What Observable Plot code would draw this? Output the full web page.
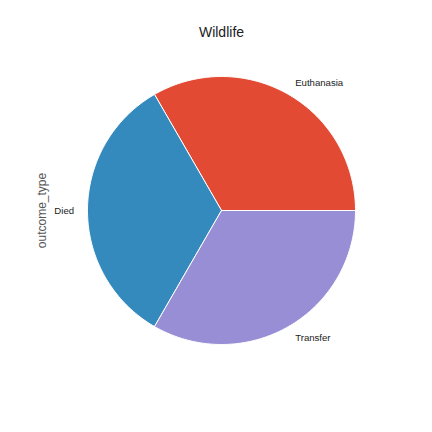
<!DOCTYPE html>
<html>
<head>
<meta charset="utf-8">
<script src="https://cdn.jsdelivr.net/npm/d3@7"></script>
<script src="https://cdn.jsdelivr.net/npm/@observablehq/plot@0.6"></script>
<style>
  html, body { margin: 0; padding: 0; background: #fff; }
  svg { display: block; }
</style>
</head>
<body>
<div id="chart"></div>
<script>
const title = "Wildlife";
const yLabel = "outcome_type";
const categories = ["Euthanasia", "Died", "Transfer"];
const values = [1, 1, 1];
const colors = ["#E24A33", "#348ABD", "#988ED5"];

// Build wedges: start at 0 rad (east), counterclockwise (matplotlib default)
const total = d3.sum(values);
const wedgePts = [];
const labelPts = [];
let start = 0;
categories.forEach((c, i) => {
  const sweep = values[i] / total * 2 * Math.PI;
  const end = start + sweep;
  const n = Math.max(2, Math.ceil(sweep / (Math.PI / 180)));
  wedgePts.push({cat: c, x: 0, y: 0});
  for (let k = 0; k <= n; k++) {
    const a = start + sweep * k / n;
    wedgePts.push({cat: c, x: Math.cos(a), y: Math.sin(a)});
  }
  wedgePts.push({cat: c, x: 0, y: 0});
  const mid = (start + end) / 2;
  labelPts.push({cat: c, x: 1.1 * Math.cos(mid), y: 1.1 * Math.sin(mid),
                 anchor: Math.cos(mid) >= 0 ? "start" : "end"});
  start = end;
});

const cx = 221, cy = 210, r = 134;
const chart = Plot.plot({
  width: 432,
  height: 432,
  margin: 0,
  style: {background: "#fff", fontFamily: "'Liberation Sans', Arial, sans-serif"},
  x: {domain: [-1, 1], range: [cx - r, cx + r], axis: null},
  y: {domain: [-1, 1], range: [cy + r, cy - r], axis: null},
  color: {domain: categories, range: colors},
  marks: [
    Plot.line(wedgePts, {x: "x", y: "y", z: "cat", fill: "cat", stroke: "#fff", strokeWidth: 1, curve: "linear"}),
    Plot.text(labelPts.filter(d => d.anchor === "start"), {x: "x", y: "y", text: "cat", textAnchor: "start", lineAnchor: "middle", fontSize: 9.6, fill: "#222"}),
    Plot.text(labelPts.filter(d => d.anchor === "end"), {x: "x", y: "y", text: "cat", textAnchor: "end", lineAnchor: "middle", fontSize: 9.6, fill: "#222"}),
    Plot.text([title], {x: () => 0, y: () => (cy - 32) / r, text: d => d, fontSize: 14, fill: "#222", lineAnchor: "middle", textAnchor: "middle"}),
    Plot.text([yLabel], {x: () => (42 - cx) / r, y: () => 0, text: d => d, fontSize: 12, fill: "#555", rotate: -90, lineAnchor: "middle", textAnchor: "middle"})
  ]
});
document.getElementById("chart").appendChild(chart);
</script>
</body>
</html>
